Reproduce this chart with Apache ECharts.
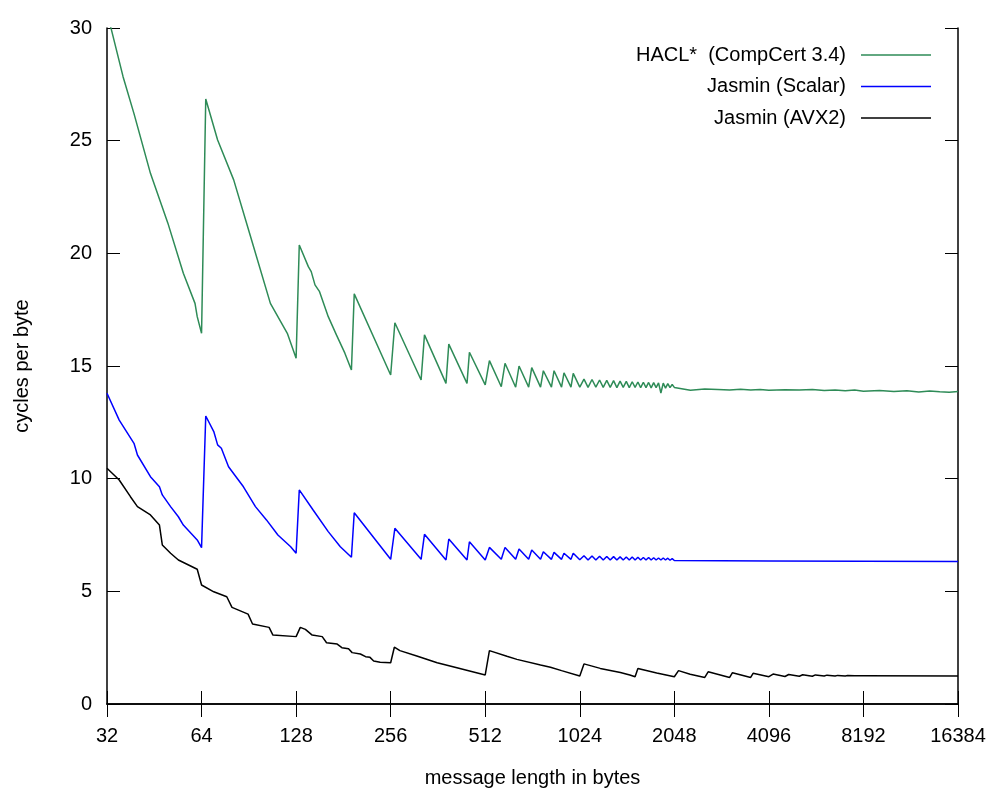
<!DOCTYPE html>
<html>
<head>
<meta charset="utf-8">
<title>cycles per byte</title>
<script src="https://cdn.jsdelivr.net/npm/echarts@6/dist/echarts.min.js"></script>
<style>
  html, body { margin: 0; padding: 0; background: #fff; }
  #chart { width: 1000px; height: 800px; }
</style>
</head>
<body>
<div id="chart"></div>
<script>
// message lengths (bytes) and cycles per byte
const haclLen = [32, 33, 36, 39, 44, 50, 56, 61, 62, 64,
  66, 72, 81, 91, 106, 120, 128,
  131, 140, 143, 147, 152, 162, 172, 183, 192,
  196, 256, 264, 320, 328, 384, 392, 448, 456, 512,
  528, 576, 592, 640, 656, 704, 720, 768, 784, 832, 848, 896, 912, 960, 976, 1024,
  1056, 1088, 1120, 1152, 1184, 1216, 1248, 1280, 1312, 1344, 1376, 1408, 1440, 1472, 1504, 1536,
  1568, 1600, 1632, 1664, 1696, 1728, 1760, 1792, 1824, 1856, 1888, 1920, 1952, 1984, 2016, 2048,
  2304, 2560, 2816, 3072, 3328, 3584, 3840, 4096, 4608, 5120, 5632, 6144, 6656, 7168, 7680, 8192,
  9216, 10240, 11264, 12288, 13312, 14336, 15360, 16384]
const haclCpb = [30.6, 29.96, 27.84, 26.2, 23.55, 21.34, 19.12, 17.78, 17.19, 16.45,
  26.85, 25.03, 23.26, 20.89, 17.78, 16.45, 15.34,
  20.37, 19.41, 19.19, 18.6, 18.3, 17.19, 16.38, 15.57, 14.82,
  18.2, 14.6, 16.92, 14.38, 16.38, 14.23, 15.97, 14.23, 15.61, 14.16,
  15.24, 14.08, 15.12, 14.06, 15.0, 14.06, 14.93, 14.06, 14.79, 14.06, 14.79, 14.06, 14.7, 14.06, 14.67, 14.06,
  14.42, 14.05, 14.40, 14.06, 14.38, 14.05, 14.36, 14.05, 14.35, 14.04, 14.33, 14.05, 14.32, 14.04, 14.30, 14.05,
  14.29, 14.04, 14.28, 14.04, 14.27, 14.03, 14.26, 14.04, 14.25, 13.80, 14.24, 14.02, 14.22, 14.04, 14.18, 14.05,
  13.92, 13.98, 13.96, 13.93, 13.97, 13.94, 13.96, 13.92, 13.95, 13.93, 13.96, 13.91, 13.94, 13.90, 13.93, 13.88,
  13.91, 13.87, 13.90, 13.85, 13.89, 13.86, 13.84, 13.87]

const scalarLen = [32, 35, 39, 40, 44, 47, 48, 51, 54, 56, 62, 64,
  66, 70, 72, 74, 78, 87, 95, 103, 112, 123, 128,
  131, 145, 162, 177, 192,
  196, 256, 264, 320, 328, 384, 392, 448, 456, 512,
  528, 576, 592, 640, 656, 704, 720, 768, 784, 832, 848, 896, 912, 960, 976, 1024,
  1056, 1088, 1120, 1152, 1184, 1216, 1248, 1280, 1312, 1344, 1376, 1408, 1440, 1472, 1504, 1536,
  1568, 1600, 1632, 1664, 1696, 1728, 1760, 1792, 1824, 1856, 1888, 1920, 1952, 1984, 2016, 2048,
  4096, 8192, 16384]
const scalarCpb = [13.79, 12.6, 11.57, 11.05, 10.09, 9.64, 9.28, 8.76, 8.31, 7.94, 7.28, 6.94,
  12.78, 12.09, 11.5, 11.35, 10.53, 9.64, 8.76, 8.17, 7.5, 6.98, 6.69,
  9.5, 8.61, 7.65, 6.98, 6.51,
  8.49, 6.42, 7.8, 6.42, 7.53, 6.39, 7.32, 6.39, 7.2, 6.39,
  6.95, 6.42, 6.95, 6.42, 6.88, 6.42, 6.83, 6.42, 6.76, 6.42, 6.73, 6.42, 6.69, 6.42, 6.69, 6.40,
  6.58, 6.39, 6.57, 6.39, 6.56, 6.39, 6.55, 6.39, 6.54, 6.39, 6.53, 6.39, 6.52, 6.39, 6.52, 6.39,
  6.51, 6.39, 6.50, 6.39, 6.50, 6.39, 6.49, 6.39, 6.48, 6.39, 6.48, 6.39, 6.47, 6.38, 6.45, 6.37,
  6.35, 6.34, 6.32]

const avxLen = [32, 35, 38, 40, 44, 47, 48, 51, 54, 62, 64,
  70, 77, 80, 90, 93, 105, 108, 128,
  132, 137, 144, 155, 160, 173, 179, 188, 193, 205, 213, 220, 226, 237, 256,
  263, 274, 310, 360, 416, 480, 512,
  528, 600, 646, 768, 826, 896, 1024,
  1056, 1190, 1379, 1478, 1536,
  1568, 1800, 2048,
  2112, 2300, 2560,
  2624, 3072,
  3136, 3584,
  3648, 4096,
  4224, 4608, 4736, 5120, 5248, 5632, 5760, 6144, 6272, 6656, 6784, 7168, 7296, 7680, 8192, 16384]
const avxCpb = [10.46, 9.94, 9.2, 8.76, 8.39, 7.94, 7.06, 6.69, 6.39, 5.98, 5.28,
  4.98, 4.76, 4.29, 3.99, 3.55, 3.4, 3.06, 2.99,
  3.4, 3.31, 3.06, 2.99, 2.72, 2.66, 2.5, 2.45, 2.28, 2.22, 2.1, 2.07, 1.91, 1.85, 1.83,
  2.52, 2.37, 2.13, 1.83, 1.61, 1.39, 1.29,
  2.37, 2.12, 1.98, 1.73, 1.63, 1.48, 1.24,
  1.78, 1.58, 1.4, 1.29, 1.21,
  1.58, 1.38, 1.21,
  1.48, 1.32, 1.18,
  1.43, 1.18,
  1.39, 1.18,
  1.36, 1.21,
  1.33, 1.22, 1.31, 1.23, 1.30, 1.23, 1.29, 1.24, 1.28, 1.24, 1.27, 1.24, 1.26, 1.25, 1.25, 1.24]

const seriesNames = ['HACL*  (CompCert 3.4)', 'Jasmin (Scalar)', 'Jasmin (AVX2)']
const colors = ['#2e8b57', '#0000ff', '#000000']

const font = 'Liberation Sans, Arial, Helvetica, sans-serif'

function zip (xs, ys) {
  return xs.map((x, i) => [x, ys[i]])
}

const chart = echarts.init(document.getElementById('chart'), null, { renderer: 'canvas' })

// gnuplot style: ticks inside, mirrored on top and right
const tick = { inside: true, length: 13, lineStyle: { color: '#000', width: 1 } }
const border = { show: true, lineStyle: { color: '#000', width: 1.5 } }

const xBase = {
  type: 'log',
  logBase: 2,
  min: 32,
  max: 16384,
  splitNumber: 9,
  axisLine: border,
  axisTick: tick,
  splitLine: { show: false },
  minorTick: { show: false }
}
const yBase = {
  type: 'value',
  min: 0,
  max: 30,
  interval: 5,
  axisLine: border,
  axisTick: tick,
  splitLine: { show: false }
}

// one legend per row so the sample lines line up on the right
const legends = seriesNames.map((name, i) => ({
  data: [name],
  right: 69,
  top: 45 + i * 31.5,
  padding: 0,
  align: 'right',
  icon: 'rect',
  itemWidth: 70,
  itemHeight: 1.5,
  selectedMode: false,
  textStyle: {
    color: '#000',
    fontSize: 20,
    fontFamily: font,
    padding: [0, 10, 0, 0]
  }
}))

const options = {
  animation: false,
  color: colors,
  grid: { left: 107, right: 42, top: 28, bottom: 96 },
  legend: legends,
  xAxis: [
    Object.assign({}, xBase, {
      position: 'bottom',
      name: 'message length in bytes',
      nameLocation: 'middle',
      nameGap: 64,
      nameTextStyle: { color: '#000', fontSize: 20, fontFamily: font },
      axisLabel: {
        margin: 22,
        color: '#000',
        fontSize: 20,
        fontFamily: font,
        formatter: v => String(Math.round(v))
      }
    }),
    Object.assign({}, xBase, { position: 'top', axisLabel: { show: false } })
  ],
  yAxis: [
    Object.assign({}, yBase, {
      position: 'left',
      name: 'cycles per byte',
      nameLocation: 'middle',
      nameGap: 75,
      nameTextStyle: { color: '#000', fontSize: 20, fontFamily: font },
      axisLabel: { margin: 15, color: '#000', fontSize: 20, fontFamily: font }
    }),
    Object.assign({}, yBase, { position: 'right', axisLabel: { show: false } })
  ],
  series: [
    { name: seriesNames[0], data: zip(haclLen, haclCpb) },
    { name: seriesNames[1], data: zip(scalarLen, scalarCpb) },
    { name: seriesNames[2], data: zip(avxLen, avxCpb) }
  ].map((s, i) => Object.assign(s, {
    type: 'line',
    xAxisIndex: 0,
    yAxisIndex: 0,
    symbol: 'none',
    clip: true,
    lineStyle: { color: colors[i], width: 1.5 },
    itemStyle: { color: colors[i] }
  }))
}

chart.setOption(options)
</script>
</body>
</html>
